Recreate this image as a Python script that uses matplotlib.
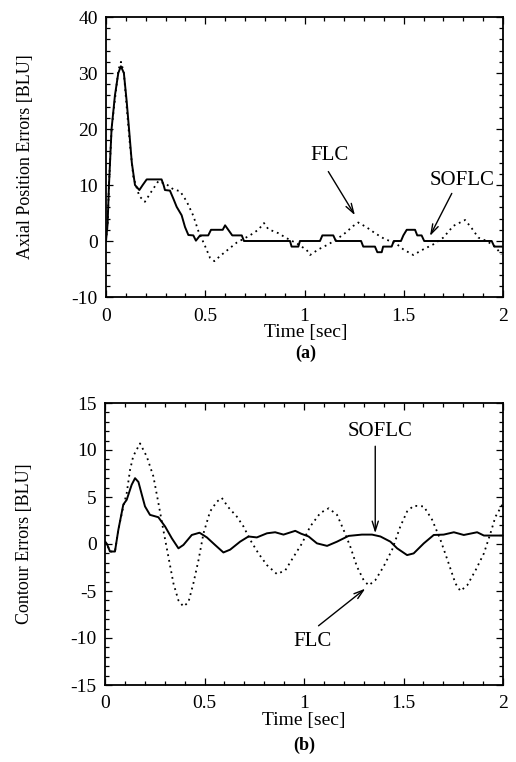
import matplotlib
matplotlib.use("Agg")
import matplotlib.pyplot as plt
from matplotlib.ticker import MultipleLocator

plt.rcParams['font.family'] = ['Liberation Serif', 'DejaVu Serif']

# ---------------- data: (a) axial position errors ----------------
a_sofl_t = [0.0, 0.008, 0.015, 0.028, 0.045, 0.062, 0.075, 0.09, 0.104, 0.116, 0.13, 0.146,
            0.168, 0.185, 0.205, 0.28, 0.29, 0.297, 0.322, 0.34, 0.356, 0.381, 0.398, 0.415,
            0.44, 0.453, 0.474, 0.515, 0.529, 0.588, 0.6, 0.616, 0.636, 0.684, 0.695,
            0.927, 0.935, 0.969, 0.977, 1.078, 1.09, 1.145, 1.158, 1.285, 1.296, 1.355, 1.367,
            1.389, 1.396, 1.439, 1.45, 1.486, 1.498, 1.515, 1.557, 1.568, 1.59, 1.603, 1.943,
            1.956, 2.0]
a_sofl_v = [0, 3, 10, 20, 26, 30, 31.2, 30, 25, 20, 14, 10,
            9.1, 10, 11, 11, 10, 9.1, 9, 7.5, 6.1, 4.6, 2.5, 1.07,
            1, 0.06, 1, 1, 2, 2, 2.8, 2, 1, 1, 0,
            0, -1, -1, 0, 0, 1, 1, 0, 0, -1, -1, -2,
            -2, -1, -1, 0, 0, 1, 2, 2, 1, 1, 0, 0,
            -1, -1]

a_flc_t = [0.0, 0.008, 0.015, 0.028, 0.062, 0.0755, 0.09, 0.104, 0.121, 0.138, 0.168, 0.196,
           0.23, 0.264, 0.306, 0.34, 0.373, 0.406, 0.44, 0.465, 0.499, 0.524, 0.546, 0.574,
           0.616, 0.658, 0.725, 0.767, 0.796, 0.818, 0.868, 0.91, 0.96, 1.011, 1.028, 1.07,
           1.12, 1.162, 1.204, 1.246, 1.271, 1.313, 1.355, 1.406, 1.456, 1.498, 1.548, 1.598,
           1.649, 1.699, 1.75, 1.809, 1.842, 1.876, 1.918, 1.96, 1.992]
a_flc_v = [0, 3, 10, 20, 30.5, 32, 30, 24, 17, 11.4, 8, 7,
           8.9, 10.7, 10.1, 9.2, 8.9, 7.1, 4.5, 1.8, -0.9, -3, -3.6, -2.7,
           -1.5, -0.3, 1, 2, 3.2, 2.1, 1.4, 0.5, -0.4, -1.6, -2.5, -1.5,
           -0.6, 0.3, 1.4, 2.7, 3.3, 2.45, 1.4, 0.3, -0.3, -1.5, -2.5, -1.5,
           -0.6, 0.6, 2.7, 3.75, 2.3, 0.6, 0, -1, -2.4]

# ---------------- data: (b) contour errors ----------------
b_sofl_t = [0.0, 0.01, 0.025, 0.05, 0.067, 0.092, 0.109, 0.134, 0.151, 0.168, 0.185, 0.201,
            0.226, 0.268, 0.302, 0.336, 0.369, 0.394, 0.436, 0.475, 0.512, 0.553, 0.595,
            0.629, 0.679, 0.721, 0.763, 0.814, 0.855, 0.897, 0.956, 0.985, 1.023, 1.065,
            1.116, 1.166, 1.224, 1.291, 1.342, 1.384, 1.434, 1.468, 1.518, 1.551, 1.602,
            1.652, 1.702, 1.753, 1.803, 1.87, 1.904, 2.0]
b_sofl_v = [0.25, 0, -0.8, -0.8, 1.5, 4.2, 4.7, 6.3, 7.0, 6.6, 5.25, 4.0,
            3.1, 2.85, 1.86, 0.6, -0.46, -0.1, 0.96, 1.2, 0.7, -0.1, -0.9,
            -0.6, 0.25, 0.8, 0.7, 1.14, 1.25, 1.0, 1.4, 1.1, 0.8, 0.07,
            -0.2, 0.25, 0.86, 1.0, 1.0, 0.8, 0.25, -0.46, -1.18, -1.0, 0.07,
            0.96, 1.0, 1.25, 0.96, 1.25, 0.9, 0.9]

b_flc_t = [0.0, 0.01, 0.025, 0.05, 0.067, 0.092, 0.109, 0.126, 0.142, 0.176, 0.21, 0.243,
           0.268, 0.293, 0.319, 0.344, 0.369, 0.394, 0.419, 0.444, 0.47, 0.495, 0.528,
           0.562, 0.587, 0.62, 0.663, 0.696, 0.73, 0.771, 0.814, 0.864, 0.906, 0.948,
           0.99, 1.031, 1.082, 1.124, 1.166, 1.199, 1.233, 1.266, 1.3, 1.325, 1.358, 1.4,
           1.443, 1.484, 1.518, 1.551, 1.602, 1.644, 1.686, 1.727, 1.761, 1.786, 1.82,
           1.862, 1.904, 1.937, 1.962, 2.0]
b_flc_v = [0.25, 0, -0.8, -0.8, 1.5, 4.0, 5.4, 7.9, 9.35, 10.7, 9.3, 7.2,
           4.4, 1.5, -1.4, -4.2, -6.0, -6.65, -6.2, -4.2, -1.7, 1.14, 3.46,
           4.5, 4.9, 3.9, 2.9, 1.86, 0.43, -1.0, -2.25, -3.2, -2.8, -1.35,
           0.07, 1.86, 3.3, 3.8, 3.1, 1.5, -0.3, -2.4, -3.86, -4.4, -3.86, -2.4,
           -0.6, 1.86, 3.46, 4.07, 4.0, 2.57, 0.43, -2.07, -4.2, -5.0, -4.4,
           -2.8, -1.0, 1.14, 2.9, 4.3]

W, H = 516, 762
fig = plt.figure(figsize=(W / 100, H / 100), dpi=100)

ARROW = dict(arrowstyle='->,head_length=0.7,head_width=0.22', color='black', lw=1.0,
             shrinkA=0, shrinkB=0)


def setup(ax, ymin, ymax, ymaj, ymin_step, xpad):
    ax.set_xlim(0, 2)
    ax.set_ylim(ymin, ymax)
    ax.xaxis.set_major_locator(MultipleLocator(0.5))
    ax.xaxis.set_minor_locator(MultipleLocator(0.1))
    ax.yaxis.set_major_locator(MultipleLocator(ymaj))
    ax.yaxis.set_minor_locator(MultipleLocator(ymin_step))
    ax.tick_params(which='both', direction='in', top=True, right=True, width=0.9,
                   labelsize=14)
    ax.tick_params(which='major', length=5)
    ax.tick_params(which='minor', length=3)
    ax.tick_params(axis='x', pad=xpad)
    ax.tick_params(axis='y', pad=6)
    ax.xaxis.set_major_formatter(plt.FuncFormatter(lambda v, p: f"{v:g}"))
    ax.yaxis.set_major_formatter(plt.FuncFormatter(lambda v, p: f"{v:g}"))
    for s in ax.spines.values():
        s.set_linewidth(1.3)


# ---- (a) ----
ax1 = fig.add_axes([106 / W, 1 - 297 / H, 397 / W, 280 / H])
setup(ax1, -10, 40, 10, 2, 8)
ax1.plot(a_sofl_t, a_sofl_v, color='black', lw=1.4)
ax1.plot(a_flc_t, a_flc_v, color='black', lw=1.3, linestyle=(0, (1, 2.2)))
ax1.set_ylabel('Axial Position Errors [BLU]', fontsize=13)
ax1.yaxis.set_label_coords((34 - 106) / 397, 0.5)
ax1.text(1.128, 15.3, 'FLC', fontsize=15, ha='center', va='center')
ax1.annotate('', xy=(1.254, 4.6), xytext=(1.12, 12.4), arrowprops=ARROW)
ax1.text(1.794, 10.8, 'SOFLC', fontsize=15, ha='center', va='center')
ax1.annotate('', xy=(1.632, 0.9), xytext=(1.742, 8.5), arrowprops=ARROW)
fig.text(306 / W, 1 - 333 / H, 'Time [sec]', ha='center', va='center', fontsize=14)
fig.text(306 / W, 1 - 353 / H, '(a)', ha='center', va='center', fontsize=13,
         fontweight='bold')

# ---- (b) ----
ax2 = fig.add_axes([105 / W, 1 - 685 / H, 398 / W, 282 / H])
setup(ax2, -15, 15, 5, 1, 7)
ax2.plot(b_sofl_t, b_sofl_v, color='black', lw=1.4)
ax2.plot(b_flc_t, b_flc_v, color='black', lw=1.3, linestyle=(0, (1, 2.2)))
ax2.set_ylabel('Contour Errors [BLU]', fontsize=13)
ax2.yaxis.set_label_coords((33 - 105) / 398, 0.5)
ax2.text(1.384, 11.95, 'SOFLC', fontsize=15, ha='center', va='center')
ax2.annotate('', xy=(1.358, 1.15), xytext=(1.358, 10.4), arrowprops=ARROW)
ax2.text(1.042, -10.4, 'FLC', fontsize=15, ha='center', va='center')
ax2.annotate('', xy=(1.308, -4.75), xytext=(1.073, -8.7), arrowprops=ARROW)
fig.text(304 / W, 1 - 721 / H, 'Time [sec]', ha='center', va='center', fontsize=14)
fig.text(304 / W, 1 - 745 / H, '(b)', ha='center', va='center', fontsize=13,
         fontweight='bold')

fig.savefig('out.png', dpi=100)
